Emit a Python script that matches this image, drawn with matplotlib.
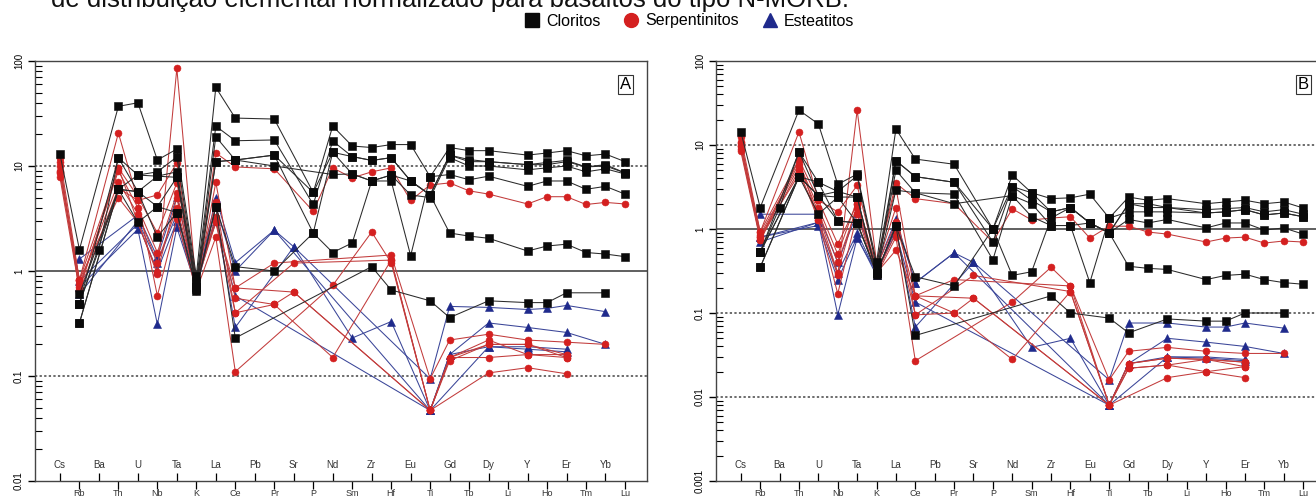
import math
import matplotlib
matplotlib.use("Agg")
import matplotlib.pyplot as plt
import matplotlib.transforms as mtransforms
from matplotlib.lines import Line2D
from matplotlib.ticker import NullFormatter

plt.rcParams['font.family'] = ['Liberation Sans', 'DejaVu Sans']

ELEMENTS = ["Cs", "Rb", "Ba", "Th", "U", "Nb", "Ta", "K", "La", "Ce", "Pb", "Pr",
            "Sr", "P", "Nd", "Sm", "Zr", "Hf", "Eu", "Ti", "Gd", "Tb", "Dy", "Li",
            "Y", "Ho", "Er", "Tm", "Yb", "Lu"]

TITLE = "de distribuição elemental normalizado para basaltos do tipo N-MORB."
GROUPS = ["Cloritos", "Serpentinitos", "Esteatitos"]

# ---- panel A (0.01 - 100) ----
A_CLORITOS = [
    {"Cs": 13, "Rb": 1.6, "Th": 37, "U": 40, "Nb": 11.4, "Ta": 14.5, "K": 0.9, "La": 56, "Ce": 28.6,
     "Pr": 28, "P": 5.6, "Nd": 24, "Sm": 15.5, "Zr": 15, "Hf": 16, "Eu": 16, "Ti": 7.9, "Gd": 15,
     "Tb": 14, "Dy": 14, "Y": 12.7, "Ho": 13.3, "Er": 14, "Tm": 12.5, "Yb": 13, "Lu": 11},
    {"Rb": 0.49, "Ba": 1.6, "Th": 12, "U": 8.2, "Nb": 8.8, "Ta": 12.2, "K": 0.8, "La": 24, "Ce": 17.4,
     "Pr": 17.7, "P": 4.3, "Nd": 17.3, "Sm": 12.3, "Zr": 11.3, "Hf": 12, "Eu": 7.2, "Ti": 5.3, "Gd": 12.7,
     "Tb": 11, "Dy": 11, "Y": 10.3, "Ho": 10.8, "Er": 11.3, "Tm": 9.8, "Yb": 10.3, "Lu": 8.6},
    {"Rb": 0.32, "Th": 6, "U": 5.7, "Nb": 4.1, "Ta": 7.8, "K": 0.7, "La": 19, "Ce": 11.4, "Pr": 12.7,
     "P": 2.3, "Nd": 13.5, "Sm": 8.4, "Zr": 7.2, "Hf": 8.2, "Eu": 5.3, "Ti": 5.0, "Gd": 12.0, "Tb": 10,
     "Dy": 10, "Y": 9.2, "Ho": 9.6, "Er": 10, "Tm": 8.8, "Yb": 9.4, "Lu": 8.4},
    {"Rb": 0.6, "Th": 6, "U": 8.2, "Nb": 8, "Ta": 8.8, "K": 0.75, "La": 11, "Ce": 11.4, "Pr": 10,
     "Nd": 8.3, "Sm": 8.4, "Zr": 7.2, "Hf": 7.2, "Eu": 1.4, "Ti": 7.9, "Gd": 8.3, "Tb": 7.4, "Dy": 8,
     "Y": 6.4, "Ho": 7.2, "Er": 7.2, "Tm": 6, "Yb": 6.4, "Lu": 5.4},
    {"Rb": 0.49, "Th": 12, "U": 5.7, "Nb": 2.1, "Ta": 3.6, "K": 0.7, "La": 4.1, "Ce": 1.1, "Pr": 1.0,
     "P": 2.3, "Nd": 1.5, "Sm": 1.85, "Zr": 7.2, "Hf": 8.2, "Eu": 7.2, "Ti": 5.3, "Gd": 2.3, "Tb": 2.15,
     "Dy": 2.05, "Y": 1.55, "Ho": 1.73, "Er": 1.8, "Tm": 1.5, "Yb": 1.45, "Lu": 1.37},
    {"Rb": 0.32, "Th": 6, "U": 2.9, "Nb": 4.1, "Ta": 3.6, "K": 0.68, "La": 4.1, "Ce": 0.23, "Zr": 1.1,
     "Hf": 0.66, "Ti": 0.52, "Gd": 0.36, "Dy": 0.52, "Y": 0.5, "Ho": 0.5, "Er": 0.62, "Yb": 0.62},
    {"Rb": 0.49, "Th": 6, "U": 5.7, "Nb": 8, "Ta": 7.8, "K": 0.65, "La": 11, "Ce": 11.4, "Pr": 12.7,
     "P": 5.6, "Nd": 13.5, "Sm": 12.3, "Zr": 11.3, "Hf": 12, "Eu": 7.2, "Ti": 5.3, "Gd": 12.7, "Tb": 11.5,
     "Dy": 11, "Y": 10.3, "Ho": 10.3, "Er": 11, "Tm": 9.8, "Yb": 10, "Lu": 8.6},
]
A_SERPENT = [
    {"Cs": 12, "Rb": 0.82, "Th": 20.6, "U": 4.7, "Nb": 5.3, "Ta": 10.7, "K": 0.7, "La": 13.3, "Ce": 9.8,
     "Pr": 9.4, "P": 3.7, "Nd": 9.6, "Sm": 7.7, "Zr": 8.8, "Hf": 9.6, "Eu": 4.7, "Ti": 6.6, "Gd": 6.9,
     "Tb": 5.8, "Dy": 5.4, "Y": 4.35, "Ho": 5.1, "Er": 5.1, "Tm": 4.3, "Yb": 4.5, "Lu": 4.35},
    {"Cs": 8.8, "Rb": 0.82, "Th": 9.6, "U": 2.9, "Nb": 0.93, "Ta": 85, "K": 0.7, "La": 7.0, "Ce": 0.69,
     "Pr": 1.19, "Hf": 1.42, "Ti": 0.094, "Gd": 0.22, "Dy": 0.25, "Y": 0.22, "Er": 0.21, "Yb": 0.2},
    {"Cs": 7.8, "Rb": 0.66, "Th": 9.6, "U": 5.1, "Nb": 2.3, "Ta": 6.9, "K": 0.85, "La": 2.9, "Ce": 0.4,
     "Sr": 1.19, "Hf": 1.27, "Ti": 0.047, "Gd": 0.15, "Dy": 0.22, "Y": 0.16, "Er": 0.16},
    {"Cs": 11, "Rb": 0.63, "Th": 6.2, "U": 4.7, "Nb": 0.58, "Ta": 3.1, "K": 0.65, "La": 2.1, "Ce": 0.11,
     "Nd": 0.73, "Zr": 2.35, "Hf": 1.2, "Ti": 0.047, "Gd": 0.14, "Dy": 0.2, "Y": 0.2, "Er": 0.15},
    {"Cs": 9, "Rb": 0.82, "Th": 5, "U": 2.9, "Nb": 0.98, "Ta": 5.0, "K": 0.75, "La": 2.9, "Ce": 0.69,
     "Sr": 0.63, "Ti": 0.047, "Dy": 0.107, "Y": 0.12, "Er": 0.105},
    {"Cs": 8.5, "Rb": 0.75, "Th": 7, "U": 3.5, "Nb": 1.2, "Ta": 4.0, "K": 0.8, "La": 3.3, "Ce": 0.55,
     "Pr": 0.48, "Nd": 0.15, "Hf": 1.27, "Ti": 0.047, "Gd": 0.15, "Dy": 0.15, "Y": 0.16, "Er": 0.15},
    {"Cs": 10, "Rb": 0.7, "Th": 9, "U": 4.0, "Nb": 1.5, "Ta": 5.5, "K": 0.9, "La": 4.5, "Ce": 0.4,
     "Pr": 0.48, "Sr": 0.63, "Ti": 0.047, "Gd": 0.15, "Dy": 0.2, "Y": 0.2, "Er": 0.16},
]
A_ESTEAT = [
    {"Rb": 1.3, "U": 3.4, "Nb": 1.35, "Ta": 5.1, "K": 0.75, "La": 4.1, "Ce": 1.0, "Pr": 2.45, "Sr": 1.7,
     "Ti": 0.094, "Gd": 0.46, "Dy": 0.45, "Y": 0.43, "Ho": 0.44, "Er": 0.47, "Yb": 0.41},
    {"Rb": 0.7, "U": 2.5, "Nb": 0.31, "Ta": 2.6, "K": 0.7, "La": 3.3, "Ce": 0.29, "Sr": 1.7, "Sm": 0.23,
     "Hf": 0.33, "Ti": 0.047, "Gd": 0.16, "Dy": 0.32, "Y": 0.29, "Er": 0.26, "Yb": 0.2},
    {"Rb": 0.6, "U": 3.0, "Nb": 1.2, "Ta": 3.5, "K": 0.8, "La": 3.0, "Ce": 0.58, "Ti": 0.047,
     "Dy": 0.19, "Y": 0.18, "Er": 0.17},
    {"Rb": 0.8, "U": 2.8, "Nb": 1.0, "Ta": 3.0, "K": 0.7, "La": 5.0, "Ce": 1.2, "Pr": 2.45, "Ti": 0.047,
     "Gd": 0.16, "Dy": 0.19, "Y": 0.19, "Er": 0.18},
]

# ---- panel B (0.001 - 100) ----
B_CLORITOS = [
    {"Cs": 14.3, "Rb": 1.8, "Th": 26, "U": 17.8, "Nb": 3.4, "Ta": 4.5, "K": 0.4, "La": 15.5, "Ce": 6.8,
     "Pr": 5.9, "P": 1.0, "Nd": 4.4, "Sm": 2.7, "Zr": 2.3, "Hf": 2.35, "Eu": 2.6, "Ti": 1.35, "Gd": 2.4,
     "Tb": 2.2, "Dy": 2.3, "Y": 2.0, "Ho": 2.1, "Er": 2.2, "Tm": 2.0, "Yb": 2.1, "Lu": 1.78},
    {"Rb": 0.53, "Ba": 1.8, "Th": 8.3, "U": 3.6, "Nb": 2.8, "Ta": 4.3, "K": 0.35, "La": 6.5, "Ce": 4.2,
     "Pr": 3.6, "P": 0.7, "Nd": 3.2, "Sm": 2.2, "Zr": 1.6, "Hf": 1.8, "Eu": 1.18, "Ti": 0.9, "Gd": 2.0,
     "Tb": 1.8, "Dy": 1.8, "Y": 1.7, "Ho": 1.75, "Er": 1.8, "Tm": 1.6, "Yb": 1.7, "Lu": 1.5},
    {"Rb": 0.35, "Th": 4.2, "U": 2.5, "Nb": 2.4, "Ta": 2.4, "K": 0.3, "La": 5.0, "Ce": 2.7, "Pr": 2.6,
     "P": 0.43, "Nd": 2.5, "Sm": 2.0, "Zr": 1.1, "Hf": 1.1, "Eu": 0.23, "Ti": 1.35, "Gd": 1.6, "Tb": 1.6,
     "Dy": 1.6, "Y": 1.55, "Ho": 1.6, "Er": 1.7, "Tm": 1.47, "Yb": 1.55, "Lu": 1.4},
    {"Rb": 0.53, "Th": 4.2, "U": 3.6, "Nb": 1.25, "Ta": 1.18, "K": 0.3, "La": 2.9, "Ce": 2.7, "Pr": 2.0,
     "Nd": 2.5, "Sm": 1.4, "Zr": 1.1, "Hf": 1.1, "Eu": 1.18, "Ti": 0.9, "Gd": 1.3, "Tb": 1.18, "Dy": 1.3,
     "Y": 1.03, "Ho": 1.18, "Er": 1.18, "Tm": 0.97, "Yb": 1.03, "Lu": 0.87},
    {"Rb": 0.53, "Th": 8.3, "U": 2.5, "Nb": 1.25, "Ta": 1.18, "K": 0.3, "La": 1.08, "Ce": 0.27, "Pr": 0.21,
     "P": 1.0, "Nd": 0.28, "Sm": 0.31, "Zr": 1.35, "Hf": 1.8, "Eu": 1.18, "Ti": 0.9, "Gd": 0.36,
     "Tb": 0.34, "Dy": 0.33, "Y": 0.25, "Ho": 0.28, "Er": 0.29, "Tm": 0.25, "Yb": 0.23, "Lu": 0.22},
    {"Rb": 0.35, "Th": 4.2, "U": 1.5, "Nb": 2.4, "Ta": 1.18, "K": 0.3, "La": 1.08, "Ce": 0.054, "Zr": 0.16,
     "Hf": 0.1, "Ti": 0.087, "Gd": 0.058, "Dy": 0.085, "Y": 0.08, "Ho": 0.08, "Er": 0.1, "Yb": 0.1},
    {"Rb": 0.53, "Th": 4.2, "U": 2.5, "Nb": 2.8, "Ta": 2.4, "K": 0.28, "La": 6.5, "Ce": 4.2, "Pr": 3.6,
     "P": 1.0, "Nd": 3.2, "Sm": 2.7, "Zr": 1.6, "Hf": 1.8, "Eu": 1.18, "Ti": 0.9, "Gd": 2.0, "Tb": 2.0,
     "Dy": 1.8, "Y": 1.55, "Ho": 1.6, "Er": 1.7, "Tm": 1.47, "Yb": 1.55, "Lu": 1.4},
]
B_SERPENT = [
    {"Cs": 12.4, "Rb": 0.92, "Th": 14.3, "U": 2.2, "Nb": 1.6, "Ta": 3.3, "K": 0.4, "La": 3.5, "Ce": 2.3,
     "Pr": 2.0, "P": 0.7, "Nd": 1.74, "Sm": 1.28, "Zr": 1.35, "Hf": 1.4, "Eu": 0.78, "Ti": 1.08, "Gd": 1.08,
     "Tb": 0.92, "Dy": 0.87, "Y": 0.7, "Ho": 0.78, "Er": 0.8, "Tm": 0.68, "Yb": 0.72, "Lu": 0.7},
    {"Cs": 9.7, "Rb": 0.92, "Th": 6.7, "U": 1.28, "Nb": 0.28, "Ta": 26, "K": 0.4, "La": 3.1, "Ce": 0.16,
     "Pr": 0.25, "Hf": 0.21, "Ti": 0.016, "Gd": 0.035, "Dy": 0.039, "Y": 0.035, "Er": 0.033, "Yb": 0.033},
    {"Cs": 8.4, "Rb": 0.74, "Th": 6.7, "U": 2.2, "Nb": 0.66, "Ta": 2.0, "K": 0.35, "La": 1.8, "Ce": 0.095,
     "Sr": 0.28, "Hf": 0.18, "Ti": 0.008, "Gd": 0.025, "Dy": 0.029, "Y": 0.028, "Er": 0.026},
    {"Cs": 10.5, "Rb": 0.74, "Th": 5.0, "U": 1.28, "Nb": 0.17, "Ta": 1.5, "K": 0.28, "La": 0.8, "Ce": 0.027,
     "Nd": 0.135, "Zr": 0.35, "Hf": 0.21, "Ti": 0.008, "Gd": 0.022, "Dy": 0.024, "Y": 0.02, "Er": 0.023},
    {"Cs": 9.0, "Rb": 0.8, "Th": 4.5, "U": 1.5, "Nb": 0.3, "Ta": 2.0, "K": 0.3, "La": 0.56, "Ce": 0.16,
     "Sr": 0.15, "Ti": 0.008, "Dy": 0.017, "Y": 0.02, "Er": 0.017},
    {"Cs": 9.7, "Rb": 0.8, "Th": 5.5, "U": 1.6, "Nb": 0.4, "Ta": 1.8, "K": 0.3, "La": 0.9, "Ce": 0.095,
     "Pr": 0.1, "Nd": 0.028, "Hf": 0.18, "Ti": 0.008, "Gd": 0.022, "Dy": 0.024, "Y": 0.028, "Er": 0.023},
    {"Cs": 11, "Rb": 0.85, "Th": 6, "U": 1.8, "Nb": 0.5, "Ta": 2.2, "K": 0.35, "La": 1.2, "Ce": 0.16,
     "Pr": 0.1, "Sr": 0.15, "Ti": 0.008, "Gd": 0.025, "Dy": 0.029, "Y": 0.028, "Er": 0.026},
]
B_ESTEAT = [
    {"Rb": 1.5, "U": 1.5, "Nb": 0.4, "Ta": 1.55, "K": 0.35, "La": 1.3, "Ce": 0.23, "Pr": 0.52, "Sr": 0.4,
     "Ti": 0.016, "Gd": 0.076, "Dy": 0.076, "Y": 0.068, "Ho": 0.068, "Er": 0.076, "Yb": 0.066},
    {"Rb": 0.8, "U": 1.2, "Nb": 0.095, "Ta": 0.78, "K": 0.3, "La": 1.0, "Ce": 0.068, "Sr": 0.4, "Sm": 0.039,
     "Hf": 0.05, "Ti": 0.008, "Gd": 0.025, "Dy": 0.05, "Y": 0.045, "Er": 0.04, "Yb": 0.033},
    {"Rb": 0.7, "U": 1.2, "Nb": 0.3, "Ta": 0.9, "K": 0.3, "La": 0.9, "Ce": 0.135, "Ti": 0.008,
     "Dy": 0.03, "Y": 0.029, "Er": 0.027},
    {"Rb": 0.8, "U": 1.1, "Nb": 0.25, "Ta": 0.8, "K": 0.28, "La": 1.2, "Ce": 0.23, "Pr": 0.52, "Ti": 0.008,
     "Gd": 0.025, "Dy": 0.03, "Y": 0.03, "Er": 0.028},
]

STYLE = {
    "Cloritos": dict(marker="s", mfc="#0a0a0a", line="#2a2a2a", ms=5.8),
    "Serpentinitos": dict(marker="o", mfc="#d42020", line="#c23b3b", ms=5.0),
    "Esteatitos": dict(marker="^", mfc="#1f2a8c", line="#3a4598", ms=5.4),
}

W, H = 1316, 496
fig = plt.figure(figsize=(W / 100, H / 100), dpi=100)


def px_axes(x0, x1, y0, y1):
    # pixel box -> figure fraction
    return fig.add_axes([x0 / W, 1 - y1 / H, (x1 - x0) / W, (y1 - y0) / H])


def draw_group(ax, series, name, z):
    st = STYLE[name]
    for s in series:
        idx = sorted(ELEMENTS.index(k) for k in s)
        ys = [s[ELEMENTS[i]] for i in idx]
        ax.plot(idx, ys, color=st["line"], lw=0.75, zorder=z)
        ax.plot(idx, ys, ls="none", marker=st["marker"], ms=st["ms"], mfc=st["mfc"],
                mec=st["mfc"], mew=0.4, zorder=z + 0.5)


def setup_panel(ax, ymin, letter, dotted):
    ax.set_yscale("log")
    ax.set_ylim(ymin, 100)
    ax.set_xlim(-1.28, 30.13)
    decades = [10.0 ** k for k in range(int(round(math.log10(ymin))), 3)]
    ax.set_yticks(decades, labels=["%g" % d for d in decades])
    ax.yaxis.set_minor_formatter(NullFormatter())
    ax.tick_params(axis="y", which="major", direction="out", length=5, width=1,
                   labelsize=7, labelrotation=90, pad=3)
    ax.tick_params(axis="y", which="minor", direction="in", length=5, width=0.8)
    for lbl in ax.get_yticklabels():
        lbl.set_va("center")

    even = list(range(0, len(ELEMENTS), 2))
    odd = list(range(1, len(ELEMENTS), 2))
    ax.set_xticks(even, labels=[])
    ax.set_xticks(odd, labels=[], minor=True)
    ax.tick_params(axis="x", which="major", direction="in", length=6, width=0.9)
    ax.tick_params(axis="x", which="minor", direction="out", length=6, width=0.9)
    trans = mtransforms.blended_transform_factory(ax.transData, ax.transAxes)
    for i in even:
        ax.text(i, 0.038, ELEMENTS[i], transform=trans, ha="center", va="center",
                fontsize=7, color="#333333")
    # lower row sits at the page edge, as in the source
    for i in odd:
        ax.text(i, -0.029, ELEMENTS[i], transform=trans, ha="center", va="center",
                fontsize=6.5, color="#333333", clip_on=False)

    for v in dotted:
        ax.axhline(v, color="#444444", lw=1.1, ls=(0, (1.5, 1.5)), zorder=1)
    ax.axhline(1, color="#444444", lw=1.2, zorder=1)
    for sp in ax.spines.values():
        sp.set_color("#444444")
        sp.set_linewidth(1.0)

    ax.text(0.974, 0.962, letter, transform=ax.transAxes, ha="right", va="top",
            fontsize=12, zorder=10,
            bbox=dict(boxstyle="square,pad=0.12", fc="white", ec="#333333", lw=0.8))


axA = px_axes(35, 647, 61, 481)
setup_panel(axA, 0.01, "A", [10, 0.1])
draw_group(axA, A_ESTEAT, "Esteatitos", 3)
draw_group(axA, A_SERPENT, "Serpentinitos", 4)
draw_group(axA, A_CLORITOS, "Cloritos", 5)

axB = px_axes(716, 1325, 61, 481)
setup_panel(axB, 0.001, "B", [10, 0.1, 0.01])
draw_group(axB, B_ESTEAT, "Esteatitos", 3)
draw_group(axB, B_SERPENT, "Serpentinitos", 4)
draw_group(axB, B_CLORITOS, "Cloritos", 5)

# caption line cut at the top edge, as in the source page
fig.text(450 / W, 1 - 7 / H, TITLE, ha="center", va="baseline", fontsize=18.5,
         color="#111111")

handles = [Line2D([], [], ls="none", marker=STYLE[g]["marker"], ms=10,
                  mfc=STYLE[g]["mfc"], mec=STYLE[g]["mfc"]) for g in GROUPS]
fig.legend(handles, GROUPS, loc="center", bbox_to_anchor=(690 / W, 1 - 21 / H),
           ncol=3, frameon=False, fontsize=11.5, handlelength=0.8, handletextpad=0.5,
           columnspacing=1.5, borderpad=0)

fig.savefig("out.png", dpi=100)
